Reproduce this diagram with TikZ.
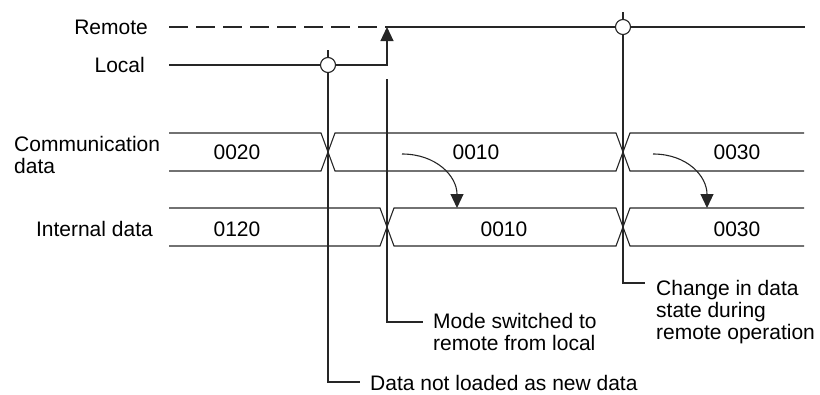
\documentclass[tikz,border=0pt]{standalone}
\usepackage{fontspec}
\setmainfont{Liberation Sans}
\usetikzlibrary{arrows.meta}

\begin{document}
\begin{tikzpicture}[
  x=1pt, y=-1pt,
  font=\fontsize{21}{22}\selectfont, >={Triangle[length=14pt,width=13pt]},
  sig/.style={line width=1.1pt, black!85},
  ring/.style={circle, draw=black!85, line width=1.1pt, fill=white, inner sep=0pt, minimum size=15pt},
  lbl/.style={inner sep=0pt},
  note/.style={inner sep=0pt, anchor=north west, align=left},
]
\useasboundingbox (0,0) rectangle (820,394);

% Mode lines — remote (dashed until switch) and local
\node[lbl, anchor=east] (remote) at (148,27) {Remote};
\node[lbl, anchor=east] (local) at (145,65) {Local};
\coordinate (sw) at (387,27);
\draw[sig, dash pattern=on 19pt off 8pt] ([xshift=21pt]remote.east) -- (sw);
\draw[sig] (sw) -- (805,27);
\draw[sig, ->] ([xshift=24pt]local.east) -- (387,65) -- (sw);

% Communication data bus
\node[lbl, anchor=west, align=left] (comm) at (14,155) {Communication\\data};
\draw[sig] (169,133) -- (321,133) -- (335,171) -- (616,171) -- (630,133) -- (804,133);
\draw[sig] (169,171) -- (321,171) -- (335,133) -- (616,133) -- (630,171) -- (804,171);
\node[lbl] (cv1) at (237,152) {0020};
\node[lbl] (cv2) at (476,152) {0010};
\node[lbl] (cv3) at (737,152) {0030};

% Internal data bus
\node[lbl, anchor=east] (intl) at (153,229) {Internal data};
\draw[sig] (169,208) -- (380,208) -- (394,246) -- (616,246) -- (630,208) -- (804,208);
\draw[sig] (169,246) -- (380,246) -- (394,208) -- (616,208) -- (630,246) -- (804,246);
\node[lbl] (iv1) at (237,229) {0120};
\node[lbl] (iv2) at (504,229) {0010};
\node[lbl] (iv3) at (737,229) {0030};

% Loading comm -> internal
\draw[sig, ->] (402,154) .. controls (436,154) and (457,176) .. (457,208);
\draw[sig, ->] (653,154) .. controls (687,154) and (707,176) .. (707,208);

% Notes
\node[note] (dnl) at (370,375) {Data not loaded as new data};
\node[note] (msw) at (433,313) {Mode switched to\\remote from local};
\node[note] (chg) at (656,280) {Change in data\\state during\\remote operation};

% Cursor lines
\coordinate (k1) at (328,50);
\coordinate (k2) at (387,79);
\coordinate (k3) at (623,12);
\draw[sig] (k1) |- ([shift={(-10,7)}]dnl.north west);
\draw[sig] (k2) |- ([shift={(-10,9)}]msw.north west);
\draw[sig] (k3) |- ([shift={(-11,3)}]chg.north west);

% Markers
\node[ring] (r1) at (328,65) {};
\node[ring] (r2) at (623,27) {};
\end{tikzpicture}
\end{document}
